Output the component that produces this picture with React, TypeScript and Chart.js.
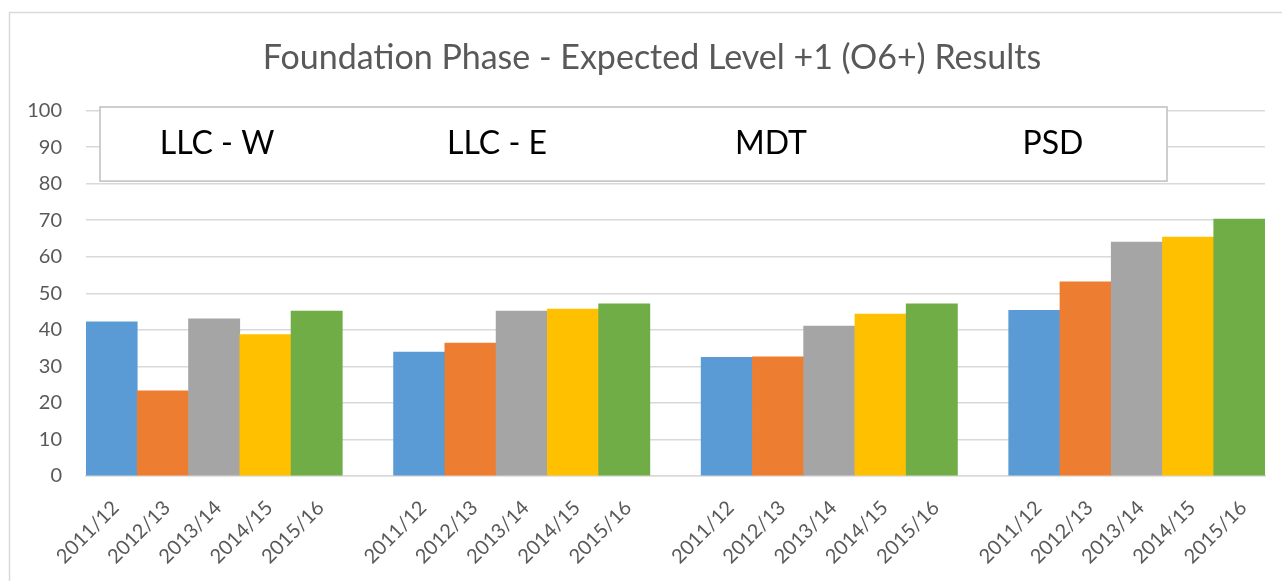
import React, { useEffect, useRef } from 'react';
import { Chart, registerables } from 'chart.js';

Chart.register(...registerables);

const titleText = 'Foundation Phase - Expected Level +1 (O6+) Results';
const years = ['2011/12', '2012/13', '2013/14', '2014/15', '2015/16'];
const groups = ['LLC - W', 'LLC - E', 'MDT', 'PSD'];
const llcW = [42.2, 23.3, 43.0, 38.7, 45.1];
const llcE = [33.9, 36.4, 45.1, 45.7, 47.1];
const mdt = [32.5, 32.6, 41.0, 44.3, 47.1];
const psd = [45.3, 53.1, 64.0, 65.4, 70.3];
const yearColors = ['#5B9BD5', '#ED7D31', '#A5A5A5', '#FFC000', '#70AD47'];
const yMin = 0;
const yMax = 100;
const yStep = 10;

const FONT = 'Lato, "Open Sans", sans-serif';

export default function App() {
  const ref = useRef<HTMLCanvasElement>(null);

  useEffect(() => {
    if (!ref.current) return;
    const seriesByGroup = [llcW, llcE, mdt, psd];
    const labels: string[] = [];
    const data: (number | null)[] = [];
    const colors: string[] = [];
    seriesByGroup.forEach((vals, gi) => {
      if (gi > 0) {
        labels.push('');
        data.push(null);
        colors.push('rgba(0,0,0,0)');
      }
      vals.forEach((v, i) => {
        labels.push(years[i]);
        data.push(v);
        colors.push(yearColors[i]);
      });
    });

    const framePlugin = {
      id: 'frame',
      beforeDraw(chart: any) {
        const ctx = chart.ctx;
        ctx.save();
        ctx.fillStyle = '#ffffff';
        ctx.fillRect(0, 0, chart.width, chart.height);
        ctx.strokeStyle = '#D9D9D9';
        ctx.lineWidth = 1.5;
        ctx.beginPath();
        ctx.moveTo(9.5, chart.height);
        ctx.lineTo(9.5, 12.5);
        ctx.lineTo(chart.width, 12.5);
        ctx.stroke();
        // chart title
        ctx.fillStyle = '#595959';
        ctx.font = `34px ${FONT}`;
        ctx.textAlign = 'center';
        ctx.textBaseline = 'alphabetic';
        ctx.fillText(titleText, 652, 69);
        ctx.restore();
      },
      afterDraw(chart: any) {
        const ctx = chart.ctx;
        const area = chart.chartArea;
        const y = chart.scales.y;
        const left = area.left + 14;
        const right = area.left + 1081;
        const top = area.top - 3.5;
        const bottom = y.getPixelForValue(80) - 2.5;
        ctx.save();
        ctx.fillStyle = '#ffffff';
        ctx.fillRect(left, top, right - left, bottom - top);
        ctx.strokeStyle = '#BFBFBF';
        ctx.lineWidth = 1.5;
        ctx.strokeRect(left, top, right - left, bottom - top);
        ctx.fillStyle = '#000000';
        ctx.font = `32px ${FONT}`;
        ctx.textAlign = 'center';
        ctx.textBaseline = 'alphabetic';
        const offsets = [117, 397, 671, 953];
        groups.forEach((g, i) => {
          ctx.fillText(g, left + offsets[i], top + 46.5);
        });
        ctx.restore();
      },
    };

    const chart = new Chart(ref.current, {
      type: 'bar',
      data: {
        labels,
        datasets: [
          {
            data,
            backgroundColor: colors,
            borderWidth: 0,
            categoryPercentage: 1,
            barPercentage: 1,
          },
        ],
      },
      options: {
        animation: false,
        responsive: false,
        layout: { padding: { left: 0, right: 17, top: 110.5, bottom: 0 } },
        plugins: {
          legend: { display: false },
          tooltip: { enabled: false },
          title: { display: false },
        },
        scales: {
          x: {
            grid: { display: false, drawTicks: false },
            border: { display: true, color: '#D9D9D9', width: 1.5 },
            ticks: {
              autoSkip: false,
              minRotation: 45,
              maxRotation: 45,
              color: '#595959',
              font: { family: FONT, size: 20 },
              padding: 20,
              labelOffset: 4,
            },
            afterFit: (scale: any) => {
              scale.height = 105;
            },
          },
          y: {
            min: yMin,
            max: yMax,
            grid: { color: '#D9D9D9', lineWidth: 1.5, drawTicks: false },
            border: { display: false },
            ticks: {
              stepSize: yStep,
              color: '#595959',
              font: { family: FONT, size: 20 },
              padding: 24,
            },
            afterFit: (scale: any) => {
              scale.width = 86;
            },
          },
        },
      },
      plugins: [framePlugin],
    });
    return () => chart.destroy();
  }, []);

  return (
    <div style={{ position: 'fixed', left: 0, top: 0, width: 1282, height: 581, background: '#fff' }}>
      <canvas ref={ref} width={1282} height={581} style={{ display: 'block' }} />
    </div>
  );
}
